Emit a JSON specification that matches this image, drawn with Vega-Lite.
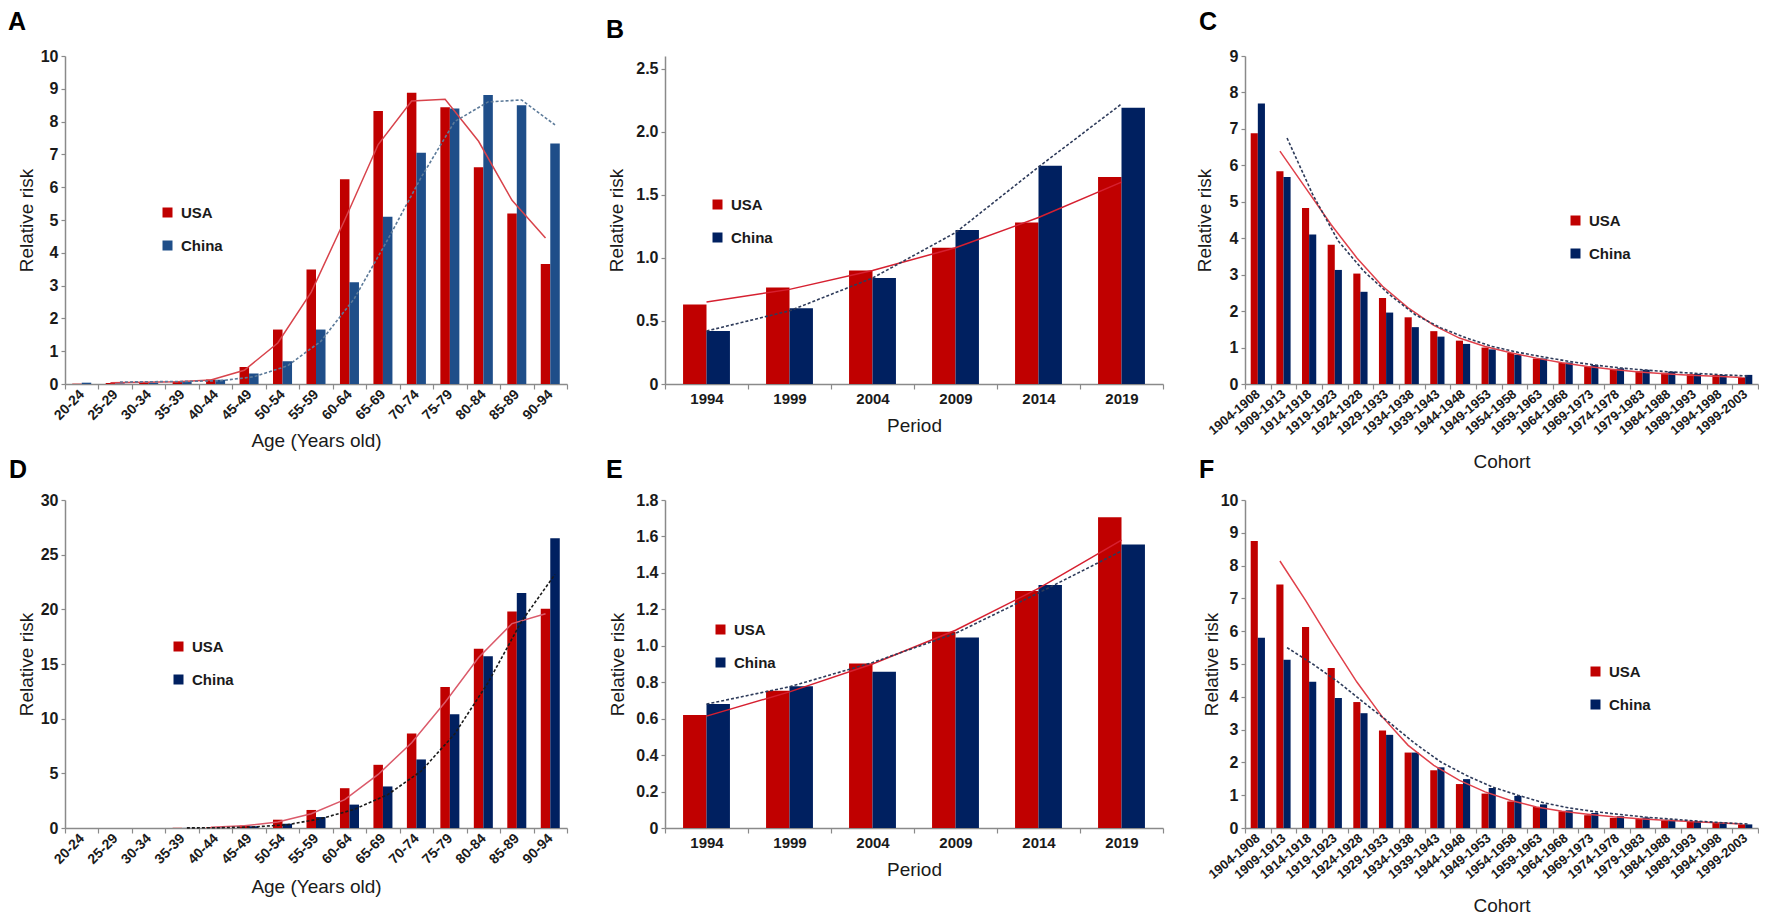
{
"$schema": "https://vega.github.io/schema/vega-lite/v6.json",
"background": "white",
"padding": {"left": 8, "top": 10, "right": 0, "bottom": 0},
"config": {
  "font": "Liberation Sans",
  "view": {"stroke": null},
  "axis": {"domainColor": "#8a8a8a", "domainWidth": 1.5, "tickColor": "#8a8a8a", "tickWidth": 1.2, "labelFont": "Liberation Sans", "labelFontWeight": "bold", "labelColor": "#1a1a1a", "labelFontSize": 15, "labelOverlap": false, "titleFont": "Liberation Sans", "titleFontWeight": "normal", "titleColor": "#1a1a1a", "titleFontSize": 19, "grid": false},
  "axisY": {"labelFontSize": 16},
  "legend": {"labelFont": "Liberation Sans", "labelFontSize": 15, "labelFontWeight": "bold", "labelColor": "#1a1a1a", "symbolType": "square", "symbolSize": 100, "symbolStrokeWidth": 0, "rowPadding": 17, "labelOffset": 6, "padding": 0},
  "title": {"font": "Liberation Sans", "fontSize": 25, "fontWeight": "bold", "color": "#000000", "anchor": "start", "frame": "group", "align": "left", "baseline": "alphabetic"}
},
"datasets": {
  "A": [
    {"c":"20-24","country":"USA","rr":0.01,"fit":null},{"c":"25-29","country":"USA","rr":0.03,"fit":0.04},{"c":"30-34","country":"USA","rr":0.05,"fit":0.05},{"c":"35-39","country":"USA","rr":0.07,"fit":0.07},{"c":"40-44","country":"USA","rr":0.14,"fit":0.12},{"c":"45-49","country":"USA","rr":0.52,"fit":0.42},{"c":"50-54","country":"USA","rr":1.66,"fit":1.25},{"c":"55-59","country":"USA","rr":3.49,"fit":2.8},{"c":"60-64","country":"USA","rr":6.24,"fit":5.0},{"c":"65-69","country":"USA","rr":8.32,"fit":7.3},{"c":"70-74","country":"USA","rr":8.88,"fit":8.63},{"c":"75-79","country":"USA","rr":8.44,"fit":8.68},{"c":"80-84","country":"USA","rr":6.61,"fit":7.4},{"c":"85-89","country":"USA","rr":5.2,"fit":5.6},{"c":"90-94","country":"USA","rr":3.66,"fit":4.45},
    {"c":"20-24","country":"China","rr":0.04,"fit":null},{"c":"25-29","country":"China","rr":0.02,"fit":0.06},{"c":"30-34","country":"China","rr":0.04,"fit":0.07},{"c":"35-39","country":"China","rr":0.06,"fit":0.08},{"c":"40-44","country":"China","rr":0.13,"fit":0.1},{"c":"45-49","country":"China","rr":0.32,"fit":0.22},{"c":"50-54","country":"China","rr":0.69,"fit":0.55},{"c":"55-59","country":"China","rr":1.66,"fit":1.3},{"c":"60-64","country":"China","rr":3.1,"fit":2.6},{"c":"65-69","country":"China","rr":5.1,"fit":4.4},{"c":"70-74","country":"China","rr":7.05,"fit":6.3},{"c":"75-79","country":"China","rr":8.4,"fit":8.0},{"c":"80-84","country":"China","rr":8.81,"fit":8.6},{"c":"85-89","country":"China","rr":8.5,"fit":8.66},{"c":"90-94","country":"China","rr":7.33,"fit":7.9}
  ],
  "B": [
    {"c":"1994","country":"USA","rr":0.63,"fit":0.65},{"c":"1999","country":"USA","rr":0.765,"fit":0.75},{"c":"2004","country":"USA","rr":0.9,"fit":0.9},{"c":"2009","country":"USA","rr":1.08,"fit":1.08},{"c":"2014","country":"USA","rr":1.28,"fit":1.32},{"c":"2019","country":"USA","rr":1.64,"fit":1.6},
    {"c":"1994","country":"China","rr":0.42,"fit":0.42},{"c":"1999","country":"China","rr":0.6,"fit":0.58},{"c":"2004","country":"China","rr":0.84,"fit":0.84},{"c":"2009","country":"China","rr":1.22,"fit":1.2},{"c":"2014","country":"China","rr":1.73,"fit":1.72},{"c":"2019","country":"China","rr":2.19,"fit":2.22}
  ],
  "C": [
    {"c":"1904-1908","country":"USA","rr":6.88,"fit":null},{"c":"1909-1913","country":"USA","rr":5.84,"fit":6.39},{"c":"1914-1918","country":"USA","rr":4.83,"fit":5.38},{"c":"1919-1923","country":"USA","rr":3.82,"fit":4.37},{"c":"1924-1928","country":"USA","rr":3.03,"fit":3.46},{"c":"1929-1933","country":"USA","rr":2.36,"fit":2.68},{"c":"1934-1938","country":"USA","rr":1.83,"fit":2.09},{"c":"1939-1943","country":"USA","rr":1.45,"fit":1.61},{"c":"1944-1948","country":"USA","rr":1.19,"fit":1.26},{"c":"1949-1953","country":"USA","rr":1.0,"fit":1.03},{"c":"1954-1958","country":"USA","rr":0.85,"fit":0.86},{"c":"1959-1963","country":"USA","rr":0.7,"fit":0.71},{"c":"1964-1968","country":"USA","rr":0.58,"fit":0.58},{"c":"1969-1973","country":"USA","rr":0.48,"fit":0.48},{"c":"1974-1978","country":"USA","rr":0.41,"fit":0.4},{"c":"1979-1983","country":"USA","rr":0.35,"fit":0.33},{"c":"1984-1988","country":"USA","rr":0.31,"fit":0.28},{"c":"1989-1993","country":"USA","rr":0.27,"fit":0.24},{"c":"1994-1998","country":"USA","rr":0.25,"fit":0.21},{"c":"1999-2003","country":"USA","rr":0.18,"fit":0.18},
    {"c":"1904-1908","country":"China","rr":7.7,"fit":null},{"c":"1909-1913","country":"China","rr":5.68,"fit":6.75},{"c":"1914-1918","country":"China","rr":4.1,"fit":5.2},{"c":"1919-1923","country":"China","rr":3.13,"fit":3.92},{"c":"1924-1928","country":"China","rr":2.53,"fit":3.09},{"c":"1929-1933","country":"China","rr":1.96,"fit":2.45},{"c":"1934-1938","country":"China","rr":1.56,"fit":1.9},{"c":"1939-1943","country":"China","rr":1.3,"fit":1.54},{"c":"1944-1948","country":"China","rr":1.1,"fit":1.26},{"c":"1949-1953","country":"China","rr":0.95,"fit":1.03},{"c":"1954-1958","country":"China","rr":0.8,"fit":0.87},{"c":"1959-1963","country":"China","rr":0.7,"fit":0.74},{"c":"1964-1968","country":"China","rr":0.59,"fit":0.62},{"c":"1969-1973","country":"China","rr":0.52,"fit":0.52},{"c":"1974-1978","country":"China","rr":0.43,"fit":0.44},{"c":"1979-1983","country":"China","rr":0.39,"fit":0.38},{"c":"1984-1988","country":"China","rr":0.34,"fit":0.33},{"c":"1989-1993","country":"China","rr":0.28,"fit":0.29},{"c":"1994-1998","country":"China","rr":0.25,"fit":0.25},{"c":"1999-2003","country":"China","rr":0.25,"fit":0.22}
  ],
  "D": [
    {"c":"20-24","country":"USA","rr":0,"fit":null},{"c":"25-29","country":"USA","rr":0,"fit":null},{"c":"30-34","country":"USA","rr":0,"fit":null},{"c":"35-39","country":"USA","rr":0.02,"fit":null},{"c":"40-44","country":"USA","rr":0.08,"fit":0.06},{"c":"45-49","country":"USA","rr":0.24,"fit":0.2},{"c":"50-54","country":"USA","rr":0.76,"fit":0.55},{"c":"55-59","country":"USA","rr":1.65,"fit":1.3},{"c":"60-64","country":"USA","rr":3.64,"fit":2.6},{"c":"65-69","country":"USA","rr":5.78,"fit":4.9},{"c":"70-74","country":"USA","rr":8.65,"fit":7.8},{"c":"75-79","country":"USA","rr":12.9,"fit":11.5},{"c":"80-84","country":"USA","rr":16.4,"fit":15.6},{"c":"85-89","country":"USA","rr":19.8,"fit":18.7},{"c":"90-94","country":"USA","rr":20.06,"fit":19.6},
    {"c":"20-24","country":"China","rr":0,"fit":null},{"c":"25-29","country":"China","rr":0,"fit":null},{"c":"30-34","country":"China","rr":0,"fit":null},{"c":"35-39","country":"China","rr":0.01,"fit":0.01},{"c":"40-44","country":"China","rr":0.05,"fit":0.03},{"c":"45-49","country":"China","rr":0.15,"fit":0.1},{"c":"50-54","country":"China","rr":0.4,"fit":0.3},{"c":"55-59","country":"China","rr":1.0,"fit":0.85},{"c":"60-64","country":"China","rr":2.14,"fit":1.7},{"c":"65-69","country":"China","rr":3.8,"fit":3.05},{"c":"70-74","country":"China","rr":6.27,"fit":5.2},{"c":"75-79","country":"China","rr":10.4,"fit":8.6},{"c":"80-84","country":"China","rr":15.7,"fit":13.3},{"c":"85-89","country":"China","rr":21.5,"fit":18.9},{"c":"90-94","country":"China","rr":26.5,"fit":23.2}
  ],
  "E": [
    {"c":"1994","country":"USA","rr":0.62,"fit":0.614},{"c":"1999","country":"USA","rr":0.753,"fit":0.747},{"c":"2004","country":"USA","rr":0.903,"fit":0.9},{"c":"2009","country":"USA","rr":1.077,"fit":1.085},{"c":"2014","country":"USA","rr":1.3,"fit":1.315},{"c":"2019","country":"USA","rr":1.706,"fit":1.58},
    {"c":"1994","country":"China","rr":0.68,"fit":0.68},{"c":"1999","country":"China","rr":0.778,"fit":0.775},{"c":"2004","country":"China","rr":0.857,"fit":0.908},{"c":"2009","country":"China","rr":1.046,"fit":1.068},{"c":"2014","country":"China","rr":1.333,"fit":1.29},{"c":"2019","country":"China","rr":1.556,"fit":1.52}
  ],
  "F": [
    {"c":"1904-1908","country":"USA","rr":8.75,"fit":null},{"c":"1909-1913","country":"USA","rr":7.42,"fit":8.14},{"c":"1914-1918","country":"USA","rr":6.13,"fit":6.94},{"c":"1919-1923","country":"USA","rr":4.88,"fit":5.67},{"c":"1924-1928","country":"USA","rr":3.84,"fit":4.45},{"c":"1929-1933","country":"USA","rr":2.97,"fit":3.38},{"c":"1934-1938","country":"USA","rr":2.3,"fit":2.52},{"c":"1939-1943","country":"USA","rr":1.76,"fit":1.91},{"c":"1944-1948","country":"USA","rr":1.34,"fit":1.45},{"c":"1949-1953","country":"USA","rr":1.05,"fit":1.1},{"c":"1954-1958","country":"USA","rr":0.81,"fit":0.84},{"c":"1959-1963","country":"USA","rr":0.64,"fit":0.64},{"c":"1964-1968","country":"USA","rr":0.51,"fit":0.51},{"c":"1969-1973","country":"USA","rr":0.39,"fit":0.42},{"c":"1974-1978","country":"USA","rr":0.31,"fit":0.34},{"c":"1979-1983","country":"USA","rr":0.28,"fit":0.28},{"c":"1984-1988","country":"USA","rr":0.23,"fit":0.24},{"c":"1989-1993","country":"USA","rr":0.2,"fit":0.2},{"c":"1994-1998","country":"USA","rr":0.16,"fit":0.16},{"c":"1999-2003","country":"USA","rr":0.11,"fit":0.12},
    {"c":"1904-1908","country":"China","rr":5.8,"fit":null},{"c":"1909-1913","country":"China","rr":5.13,"fit":5.5},{"c":"1914-1918","country":"China","rr":4.46,"fit":5.0},{"c":"1919-1923","country":"China","rr":3.96,"fit":4.45},{"c":"1924-1928","country":"China","rr":3.5,"fit":3.82},{"c":"1929-1933","country":"China","rr":2.84,"fit":3.21},{"c":"1934-1938","country":"China","rr":2.3,"fit":2.57},{"c":"1939-1943","country":"China","rr":1.85,"fit":2.01},{"c":"1944-1948","country":"China","rr":1.49,"fit":1.6},{"c":"1949-1953","country":"China","rr":1.22,"fit":1.25},{"c":"1954-1958","country":"China","rr":0.98,"fit":1.0},{"c":"1959-1963","country":"China","rr":0.72,"fit":0.77},{"c":"1964-1968","country":"China","rr":0.54,"fit":0.61},{"c":"1969-1973","country":"China","rr":0.46,"fit":0.5},{"c":"1974-1978","country":"China","rr":0.36,"fit":0.41},{"c":"1979-1983","country":"China","rr":0.32,"fit":0.33},{"c":"1984-1988","country":"China","rr":0.25,"fit":0.27},{"c":"1989-1993","country":"China","rr":0.21,"fit":0.21},{"c":"1994-1998","country":"China","rr":0.17,"fit":0.16},{"c":"1999-2003","country":"China","rr":0.11,"fit":0.12}
  ]
},
"columns": 5,
"spacing": {"row": 116, "column": 10},
"bounds": "flush",
"resolve": {"scale": {"x": "independent", "y": "independent", "xOffset": "independent", "color": "independent"}, "axis": {"x": "independent", "y": "independent"}, "legend": {"color": "independent"}},
"concat": [
  {
    "width": 502, "height": 328,
    "title": {"text": "A", "dx": -57, "offset": 13},
    "data": {"name": "A"},
    "encoding": {
      "x": {"field": "c", "type": "nominal", "scale": {"domain": ["20-24","25-29","30-34","35-39","40-44","45-49","50-54","55-59","60-64","65-69","70-74","75-79","80-84","85-89","90-94"], "paddingInner": 0, "paddingOuter": 0},
        "axis": {"title": "Age (Years old)", "labelAngle": -45, "labelAlign": "right", "labelBaseline": "middle", "labelFontSize": 14, "labelPadding": 3, "tickSize": 5, "tickBand": "extent", "titleY": 62, "titleBaseline": "alphabetic"}},
      "xOffset": {"field": "country", "type": "nominal", "scale": {"domain": ["USA","China"], "paddingInner": 0, "paddingOuter": 0.76}}
    },
    "layer": [
      {"mark": {"type": "bar"}, "encoding": {
        "y": {"field": "rr", "type": "quantitative", "title": "Relative risk", "scale": {"domain": [0,10]}, "axis": {"values": [0,1,2,3,4,5,6,7,8,9,10], "labelOverlap": false, "tickSize": 4, "labelPadding": 3, "titleX": -33, "titleY": 164, "titleBaseline": "alphabetic"}},
        "color": {"field": "country", "type": "nominal", "scale": {"domain": ["USA","China"], "range": ["#C00000","#1F4E89"]}, "legend": {"title": null, "orient": "none", "legendX": 95, "legendY": 149}}}},
      {"transform": [{"filter": "datum.country == 'USA' && isValid(datum.fit)"}], "mark": {"type": "line", "color": "#D8434B", "strokeWidth": 1.5}, "encoding": {"y": {"field": "fit", "type": "quantitative", "title": "Relative risk", "axis": {"values": [0,1,2,3,4,5,6,7,8,9,10], "labelOverlap": false, "tickSize": 4, "labelPadding": 3, "titleX": -33, "titleY": 164, "titleBaseline": "alphabetic"}}}},
      {"transform": [{"filter": "datum.country == 'China' && isValid(datum.fit)"}], "mark": {"type": "line", "color": "#5C7A99", "strokeWidth": 1.6, "strokeDash": [3,2]}, "encoding": {"y": {"field": "fit", "type": "quantitative", "title": "Relative risk", "axis": {"values": [0,1,2,3,4,5,6,7,8,9,10], "labelOverlap": false, "tickSize": 4, "labelPadding": 3, "titleX": -33, "titleY": 164, "titleBaseline": "alphabetic"}}}}
    ]
  },
  {"width": 78, "height": 10, "data": {"values": []}, "mark": {"type": "point", "opacity": 0}},
  {
    "width": 498, "height": 328,
    "title": {"text": "B", "dx": -59, "offset": 13},
    "data": {"name": "B"},
    "encoding": {
      "x": {"field": "c", "type": "nominal", "scale": {"domain": ["1994","1999","2004","2009","2014","2019"], "paddingInner": 0, "paddingOuter": 0},
        "axis": {"title": "Period", "labelAngle": 0, "labelFontSize": 15, "labelPadding": 2, "tickSize": 5, "tickBand": "extent", "titleY": 47, "titleBaseline": "alphabetic"}}
    },
    "layer": [
      {"mark": {"type": "bar"}, "encoding": {
        "xOffset": {"field": "country", "type": "nominal", "scale": {"domain": ["USA","China"], "paddingInner": 0, "paddingOuter": 0.77}},
        "y": {"field": "rr", "type": "quantitative", "title": "Relative risk", "scale": {"domain": [0,2.5]}, "axis": {"values": [0,0.5,1,1.5,2,2.5], "labelOverlap": false, "labelExpr": "datum.value == 0 ? '0' : format(datum.value, '.1f')", "tickSize": 4, "labelPadding": 3, "titleX": -43, "titleY": 164, "titleBaseline": "alphabetic"}},
        "color": {"field": "country", "type": "nominal", "scale": {"domain": ["USA","China"], "range": ["#C00000","#002060"]}, "legend": {"title": null, "orient": "none", "legendX": 45, "legendY": 141}}}},
      {"transform": [{"filter": "datum.country == 'USA' && isValid(datum.fit)"}], "mark": {"type": "line", "color": "#D62030", "strokeWidth": 1.5}, "encoding": {"y": {"field": "fit", "type": "quantitative", "title": "Relative risk", "axis": {"values": [0,0.5,1,1.5,2,2.5], "labelOverlap": false, "labelExpr": "datum.value == 0 ? '0' : format(datum.value, '.1f')", "tickSize": 4, "labelPadding": 3, "titleX": -43, "titleY": 164, "titleBaseline": "alphabetic"}}}},
      {"transform": [{"filter": "datum.country == 'China' && isValid(datum.fit)"}], "mark": {"type": "line", "color": "#2E3B5A", "strokeWidth": 1.6, "strokeDash": [3,2]}, "encoding": {"y": {"field": "fit", "type": "quantitative", "title": "Relative risk", "axis": {"values": [0,0.5,1,1.5,2,2.5], "labelOverlap": false, "labelExpr": "datum.value == 0 ? '0' : format(datum.value, '.1f')", "tickSize": 4, "labelPadding": 3, "titleX": -43, "titleY": 164, "titleBaseline": "alphabetic"}}}}
    ]
  },
  {"width": 62, "height": 10, "data": {"values": []}, "mark": {"type": "point", "opacity": 0}},
  {
    "width": 513, "height": 328,
    "title": {"text": "C", "dx": -46, "offset": 13},
    "data": {"name": "C"},
    "encoding": {
      "x": {"field": "c", "type": "nominal", "scale": {"domain": ["1904-1908","1909-1913","1914-1918","1919-1923","1924-1928","1929-1933","1934-1938","1939-1943","1944-1948","1949-1953","1954-1958","1959-1963","1964-1968","1969-1973","1974-1978","1979-1983","1984-1988","1989-1993","1994-1998","1999-2003"], "paddingInner": 0, "paddingOuter": 0},
        "axis": {"title": "Cohort", "labelAngle": -40, "labelAlign": "right", "labelBaseline": "middle", "labelFontSize": 13, "labelPadding": 3, "tickSize": 5, "tickBand": "extent", "titleY": 83, "titleBaseline": "alphabetic"}},
      "xOffset": {"field": "country", "type": "nominal", "scale": {"domain": ["USA","China"], "paddingInner": 0, "paddingOuter": 0.8}}
    },
    "layer": [
      {"mark": {"type": "bar"}, "encoding": {
        "y": {"field": "rr", "type": "quantitative", "title": "Relative risk", "scale": {"domain": [0,9]}, "axis": {"values": [0,1,2,3,4,5,6,7,8,9], "labelOverlap": false, "tickSize": 4, "labelPadding": 3, "titleX": -35, "titleY": 164, "titleBaseline": "alphabetic"}},
        "color": {"field": "country", "type": "nominal", "scale": {"domain": ["USA","China"], "range": ["#C00000","#002060"]}, "legend": {"title": null, "orient": "none", "legendX": 323, "legendY": 157}}}},
      {"transform": [{"filter": "datum.country == 'USA' && isValid(datum.fit)"}], "mark": {"type": "line", "color": "#E0404A", "strokeWidth": 1.5}, "encoding": {"y": {"field": "fit", "type": "quantitative", "title": "Relative risk", "axis": {"values": [0,1,2,3,4,5,6,7,8,9], "labelOverlap": false, "tickSize": 4, "labelPadding": 3, "titleX": -35, "titleY": 164, "titleBaseline": "alphabetic"}}}},
      {"transform": [{"filter": "datum.country == 'China' && isValid(datum.fit)"}], "mark": {"type": "line", "color": "#2E3B5A", "strokeWidth": 1.6, "strokeDash": [3,2]}, "encoding": {"y": {"field": "fit", "type": "quantitative", "title": "Relative risk", "axis": {"values": [0,1,2,3,4,5,6,7,8,9], "labelOverlap": false, "tickSize": 4, "labelPadding": 3, "titleX": -35, "titleY": 164, "titleBaseline": "alphabetic"}}}}
    ]
  },
  {
    "width": 502, "height": 328,
    "title": {"text": "D", "dx": -56, "offset": 9},
    "data": {"name": "D"},
    "encoding": {
      "x": {"field": "c", "type": "nominal", "scale": {"domain": ["20-24","25-29","30-34","35-39","40-44","45-49","50-54","55-59","60-64","65-69","70-74","75-79","80-84","85-89","90-94"], "paddingInner": 0, "paddingOuter": 0},
        "axis": {"title": "Age (Years old)", "labelAngle": -45, "labelAlign": "right", "labelBaseline": "middle", "labelFontSize": 14, "labelPadding": 3, "tickSize": 5, "tickBand": "extent", "titleY": 64, "titleBaseline": "alphabetic"}},
      "xOffset": {"field": "country", "type": "nominal", "scale": {"domain": ["USA","China"], "paddingInner": 0, "paddingOuter": 0.76}}
    },
    "layer": [
      {"mark": {"type": "bar"}, "encoding": {
        "y": {"field": "rr", "type": "quantitative", "title": "Relative risk", "scale": {"domain": [0,30]}, "axis": {"values": [0,5,10,15,20,25,30], "labelOverlap": false, "tickSize": 4, "labelPadding": 3, "titleX": -33, "titleY": 164, "titleBaseline": "alphabetic"}},
        "color": {"field": "country", "type": "nominal", "scale": {"domain": ["USA","China"], "range": ["#C00000","#002060"]}, "legend": {"title": null, "orient": "none", "legendX": 106, "legendY": 139}}}},
      {"transform": [{"filter": "datum.country == 'USA' && isValid(datum.fit)"}], "mark": {"type": "line", "color": "#DB5A6A", "strokeWidth": 1.5}, "encoding": {"y": {"field": "fit", "type": "quantitative", "title": "Relative risk", "axis": {"values": [0,5,10,15,20,25,30], "labelOverlap": false, "tickSize": 4, "labelPadding": 3, "titleX": -33, "titleY": 164, "titleBaseline": "alphabetic"}}}},
      {"transform": [{"filter": "datum.country == 'China' && isValid(datum.fit)"}], "mark": {"type": "line", "color": "#1A1A1A", "strokeWidth": 1.6, "strokeDash": [3,2]}, "encoding": {"y": {"field": "fit", "type": "quantitative", "title": "Relative risk", "axis": {"values": [0,5,10,15,20,25,30], "labelOverlap": false, "tickSize": 4, "labelPadding": 3, "titleX": -33, "titleY": 164, "titleBaseline": "alphabetic"}}}}
    ]
  },
  {"width": 78, "height": 10, "data": {"values": []}, "mark": {"type": "point", "opacity": 0}},
  {
    "width": 498, "height": 328,
    "title": {"text": "E", "dx": -59, "offset": 9},
    "data": {"name": "E"},
    "encoding": {
      "x": {"field": "c", "type": "nominal", "scale": {"domain": ["1994","1999","2004","2009","2014","2019"], "paddingInner": 0, "paddingOuter": 0},
        "axis": {"title": "Period", "labelAngle": 0, "labelFontSize": 15, "labelPadding": 2, "tickSize": 5, "tickBand": "extent", "titleY": 47, "titleBaseline": "alphabetic"}}
    },
    "layer": [
      {"mark": {"type": "bar"}, "encoding": {
        "xOffset": {"field": "country", "type": "nominal", "scale": {"domain": ["USA","China"], "paddingInner": 0, "paddingOuter": 0.77}},
        "y": {"field": "rr", "type": "quantitative", "title": "Relative risk", "scale": {"domain": [0,1.8]}, "axis": {"values": [0,0.2,0.4,0.6,0.8,1,1.2,1.4,1.6,1.8], "labelOverlap": false, "labelExpr": "datum.value == 0 ? '0' : format(datum.value, '.1f')", "tickSize": 4, "labelPadding": 3, "titleX": -42, "titleY": 164, "titleBaseline": "alphabetic"}},
        "color": {"field": "country", "type": "nominal", "scale": {"domain": ["USA","China"], "range": ["#C00000","#002060"]}, "legend": {"title": null, "orient": "none", "legendX": 48, "legendY": 122}}}},
      {"transform": [{"filter": "datum.country == 'USA' && isValid(datum.fit)"}], "mark": {"type": "line", "color": "#D62030", "strokeWidth": 1.5}, "encoding": {"y": {"field": "fit", "type": "quantitative", "title": "Relative risk", "axis": {"values": [0,0.2,0.4,0.6,0.8,1,1.2,1.4,1.6,1.8], "labelOverlap": false, "labelExpr": "datum.value == 0 ? '0' : format(datum.value, '.1f')", "tickSize": 4, "labelPadding": 3, "titleX": -42, "titleY": 164, "titleBaseline": "alphabetic"}}}},
      {"transform": [{"filter": "datum.country == 'China' && isValid(datum.fit)"}], "mark": {"type": "line", "color": "#2E3B5A", "strokeWidth": 1.6, "strokeDash": [3,2]}, "encoding": {"y": {"field": "fit", "type": "quantitative", "title": "Relative risk", "axis": {"values": [0,0.2,0.4,0.6,0.8,1,1.2,1.4,1.6,1.8], "labelOverlap": false, "labelExpr": "datum.value == 0 ? '0' : format(datum.value, '.1f')", "tickSize": 4, "labelPadding": 3, "titleX": -42, "titleY": 164, "titleBaseline": "alphabetic"}}}}
    ]
  },
  {"width": 62, "height": 10, "data": {"values": []}, "mark": {"type": "point", "opacity": 0}},
  {
    "width": 513, "height": 328,
    "title": {"text": "F", "dx": -46, "offset": 9},
    "data": {"name": "F"},
    "encoding": {
      "x": {"field": "c", "type": "nominal", "scale": {"domain": ["1904-1908","1909-1913","1914-1918","1919-1923","1924-1928","1929-1933","1934-1938","1939-1943","1944-1948","1949-1953","1954-1958","1959-1963","1964-1968","1969-1973","1974-1978","1979-1983","1984-1988","1989-1993","1994-1998","1999-2003"], "paddingInner": 0, "paddingOuter": 0},
        "axis": {"title": "Cohort", "labelAngle": -40, "labelAlign": "right", "labelBaseline": "middle", "labelFontSize": 13, "labelPadding": 3, "tickSize": 5, "tickBand": "extent", "titleY": 83, "titleBaseline": "alphabetic"}},
      "xOffset": {"field": "country", "type": "nominal", "scale": {"domain": ["USA","China"], "paddingInner": 0, "paddingOuter": 0.8}}
    },
    "layer": [
      {"mark": {"type": "bar"}, "encoding": {
        "y": {"field": "rr", "type": "quantitative", "title": "Relative risk", "scale": {"domain": [0,10]}, "axis": {"values": [0,1,2,3,4,5,6,7,8,9,10], "labelOverlap": false, "tickSize": 4, "labelPadding": 3, "titleX": -28, "titleY": 164, "titleBaseline": "alphabetic"}},
        "color": {"field": "country", "type": "nominal", "scale": {"domain": ["USA","China"], "range": ["#C00000","#002060"]}, "legend": {"title": null, "orient": "none", "legendX": 343, "legendY": 164}}}},
      {"transform": [{"filter": "datum.country == 'USA' && isValid(datum.fit)"}], "mark": {"type": "line", "color": "#E0404A", "strokeWidth": 1.5}, "encoding": {"y": {"field": "fit", "type": "quantitative", "title": "Relative risk", "axis": {"values": [0,1,2,3,4,5,6,7,8,9,10], "labelOverlap": false, "tickSize": 4, "labelPadding": 3, "titleX": -28, "titleY": 164, "titleBaseline": "alphabetic"}}}},
      {"transform": [{"filter": "datum.country == 'China' && isValid(datum.fit)"}], "mark": {"type": "line", "color": "#2E3B5A", "strokeWidth": 1.6, "strokeDash": [3,2]}, "encoding": {"y": {"field": "fit", "type": "quantitative", "title": "Relative risk", "axis": {"values": [0,1,2,3,4,5,6,7,8,9,10], "labelOverlap": false, "tickSize": 4, "labelPadding": 3, "titleX": -28, "titleY": 164, "titleBaseline": "alphabetic"}}}}
    ]
  }
]
}
